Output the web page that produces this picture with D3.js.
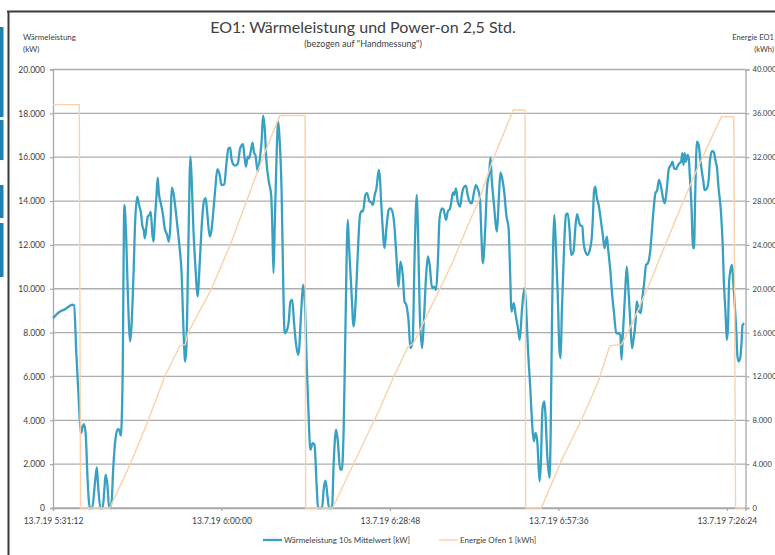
<!DOCTYPE html>
<html>
<head>
<meta charset="utf-8">
<script src="https://cdn.jsdelivr.net/npm/d3@7"></script>
<style>
  body { margin: 0; background: #fff; }
  svg text { font-family: Lato, "Open Sans", sans-serif; fill: #404040; }
</style>
</head>
<body>
<svg id="chart" width="775" height="555"></svg>
<script>
// Measurement run on 13.7.2019, minutes after 05:31:12
const startTime = new Date(2019, 6, 13, 5, 31, 12);
const endMinute = 118.4;
const xTickMinutes = [0, 28.8, 57.6, 86.4, 115.2];

const powerTicks = [0, 2000, 4000, 6000, 8000, 10000, 12000, 14000, 16000, 18000, 20000];
const energyTicks = [0, 4000, 8000, 12000, 16000, 20000, 24000, 28000, 32000, 36000, 40000];

// Wärmeleistung, 10 s Mittelwert: [minute, kW]
const heatOutput = [
  [0,8660],[1.2,8960],[2.1,9070],[3.3,9270],[3.6,9240],[4.0,6990],[4.3,5470],[4.8,3420],[5.0,3650],[5.3,3830],
  [5.6,3340],[5.9,1370],[6.3,0],[6.7,0],[7.2,1215],[7.5,1850],[7.7,1060],[8.1,0],[8.5,0],[8.8,910],
  [9.0,1520],[9.3,1060],[9.6,0],[10.0,230],[10.3,1820],[10.7,3190],[11.1,3600],[11.3,3570],[11.6,3310],[11.9,5920],
  [12.2,13820],[12.5,12460],[12.8,9720],[13.2,7600],[13.4,8200],[13.8,10940],[14.0,12760],[14.4,14200],[14.7,13820],[15.0,13520],
  [15.3,12840],[15.5,12680],[15.7,12300],[16.0,12910],[16.2,13290],[16.5,13370],[16.7,13520],[17.0,12460],[17.2,12150],[17.4,13060],
  [17.7,14280],[17.9,15070],[18.1,14360],[18.5,13820],[18.8,13370],[19.1,12760],[19.5,12460],[19.8,12150],[20.1,13060],[20.3,14610],
  [20.6,14360],[21.0,13520],[21.3,12760],[21.6,12000],[22.0,10630],[22.3,8200],[22.6,6680],[22.8,7290],[23.1,11240],[23.5,16030],
  [23.7,15040],[24.0,12760],[24.4,10790],[24.7,9650],[25.1,11240],[25.4,12760],[25.8,13980],[26.1,14130],[26.4,13370],[26.8,12380],
  [27.1,12680],[27.5,13820],[27.8,14730],[28.1,15460],[28.5,15190],[28.8,14730],[29.3,14760],[29.6,15570],[30.0,16400],[30.3,16440],
  [30.5,15950],[30.9,15650],[31.2,15620],[31.6,15720],[32.0,16400],[32.5,16590],[32.7,16100],[33.0,15570],[33.3,16030],[33.5,15950],
  [33.8,16250],[34.1,16660],[34.4,16180],[34.6,16100],[35.0,15340],[35.3,15800],[35.7,16860],[35.9,17890],[36.2,17320],[36.5,15800],
  [36.9,14890],[37.3,14280],[37.5,12760],[37.7,10710],[37.9,12760],[38.2,15800],[38.5,17620],[38.7,17010],[39.1,14280],[39.4,9720],
  [39.6,7970],[39.9,8050],[40.3,8500],[40.6,9420],[40.9,9490],[41.2,8500],[41.5,7600],[41.9,6990],[42.1,7290],[42.4,8810],
  [42.8,10180],[43.1,9110],[43.4,6380],[43.7,4250],[44.0,2660],[44.4,2960],[44.7,2890],[45.1,910],[45.3,0],[46.0,0],
  [46.3,910],[46.6,1250],[46.9,610],[47.2,0],[47.7,0],[48.0,2130],[48.4,3570],[48.7,3040],[49.1,1750],[49.4,1750],
  [49.7,3650],[50.0,8200],[50.4,13140],[50.6,12000],[51.0,10030],[51.4,8280],[51.8,9720],[52.1,11540],[52.5,13370],[52.8,13550],
  [53.0,13520],[53.4,14280],[53.7,14360],[54.1,13980],[54.4,13940],[54.7,13820],[55.0,14280],[55.3,14580],[55.7,15420],[55.9,15040],
  [56.1,13980],[56.3,13060],[56.7,11850],[57.0,12760],[57.4,13600],[57.7,13670],[58.1,13440],[58.4,12760],[58.7,11540],[59.1,10100],
  [59.4,11240],[59.8,10630],[60.1,9420],[60.4,9270],[60.8,8500],[61.1,7290],[61.5,7600],[61.8,11240],[62.2,14280],[62.4,12760],
  [62.7,8960],[63.1,7290],[63.4,8500],[63.8,10630],[64.1,11470],[64.4,11090],[64.8,10030],[65.1,10100],[65.5,9950],[65.8,11240],
  [66.1,13220],[66.5,13670],[66.8,13600],[67.2,13140],[67.5,13520],[67.9,13670],[68.2,14130],[68.4,14400],[68.6,14280],[68.9,14580],
  [69.2,13980],[69.6,13750],[69.9,14280],[70.2,14610],[70.6,14700],[70.9,14280],[71.3,13940],[71.6,13900],[72.0,14430],[72.3,14730],
  [72.6,14580],[73.0,14130],[73.2,12760],[73.5,11160],[73.9,12760],[74.2,14580],[74.6,15340],[74.8,15980],[75.0,15040],[75.4,13820],
  [75.7,12910],[75.9,12610],[76.2,13980],[76.5,15310],[76.9,14890],[77.2,14280],[77.5,13370],[77.9,12760],[78.1,11240],[78.4,8960],
  [78.8,9340],[79.1,8810],[79.5,8200],[79.8,7670],[80.2,9110],[80.6,10030],[80.9,9110],[81.2,7290],[81.6,5470],[81.9,3950],
  [82.2,3040],[82.5,3420],[82.8,3040],[83.2,1215],[83.4,1970],[83.7,4560],[84.0,4860],[84.2,4250],[84.5,2430],[84.9,1370],
  [85.1,3650],[85.3,8200],[85.7,13370],[85.9,12460],[86.3,9720],[86.6,7140],[86.8,6840],[87.0,8960],[87.4,12000],[87.7,13370],
  [88.0,13440],[88.3,12760],[88.6,11540],[89.0,11700],[89.3,12760],[89.6,13400],[89.8,13220],[90.1,12910],[90.5,12840],[90.7,12150],
  [91.0,11700],[91.4,11540],[91.7,11700],[92.1,12300],[92.3,13220],[92.5,14430],[92.7,14660],[93.0,14130],[93.3,13820],[93.7,13060],
  [94.0,12460],[94.3,11850],[94.7,12380],[94.9,11850],[95.3,10790],[95.6,9720],[95.9,8960],[96.3,7970],[96.6,7970],[97.0,7900],
  [97.2,6760],[97.4,7750],[97.8,9720],[98.1,11010],[98.3,10330],[98.7,8500],[99.0,7290],[99.2,7600],[99.6,8500],[99.8,9420],
  [100.2,8960],[100.5,8890],[100.7,9420],[101.1,10330],[101.4,11090],[101.7,11160],[102.1,11700],[102.3,12300],[102.7,13670],[103.0,14360],
  [103.3,14500],[103.6,14960],[103.9,14730],[104.3,14130],[104.6,13900],[104.9,14430],[105.3,15490],[105.6,15620],[105.9,15800],[106.2,15490],
  [106.5,15460],[106.9,15650],[107.1,15720],[107.4,15800],[107.6,16180],[107.8,15650],[108.0,16180],[108.2,15800],[108.5,16100],[108.7,15950],
  [108.9,15040],[109.2,13520],[109.4,11850],[109.6,11850],[109.8,14280],[110.1,16710],[110.4,16560],[110.6,16100],[110.9,15420],[111.2,14890],
  [111.4,14500],[111.8,14580],[112.1,14960],[112.3,15800],[112.7,16290],[113.0,16220],[113.3,15800],[113.5,15570],[113.8,14580],[114.2,13520],
  [114.5,12000],[114.7,10330],[115.0,8810],[115.2,7670],[115.4,8200],[115.6,10330],[115.9,10940],[116.1,11090],[116.3,10330],[116.6,9110],
  [116.8,8200],[117.0,6990],[117.2,6680],[117.5,6840],[117.7,7450],[117.9,8350],[118.2,8430]
];

// Energie Ofen 1, in units of the right-hand axis: [minute, value]
const ovenEnergy = [
  [0,36800],[4.5,36800],[4.7,0],[9.7,0],[13.2,4000],[16.3,8000],[19.1,12000],[21.7,14800],[22.6,14900],[23.1,16000],
  [27.1,20000],[30.3,24000],[33.1,28000],[35.9,32000],[38.8,35800],[43.1,35800],[43.2,0],[47.8,0],[51.9,4600],[55.9,9100],
  [58.2,11900],[60.7,14700],[61.6,15000],[65.6,19400],[68.4,22500],[70.7,25500],[73.0,28300],[75.3,31900],[78.7,36300],[80.7,36300],
  [80.8,0],[83.5,0],[86.9,4300],[90.4,8100],[93.2,11500],[95.2,14800],[97.2,14900],[98.9,16700],[101.7,20100],[104.6,23900],
  [107.4,27500],[109.7,30400],[112.0,33100],[114.3,35700],[116.4,35700],[116.7,0],[118.3,0]
];

const seriesNames = ["Wärmeleistung 10s Mittelwert [kW]", "Energie Ofen 1 [kWh]"];
const colors = { heat: "#38a1c2", energy: "#fbd1ab" };

const svg = d3.select("#chart");
const plot = { left: 53, right: 745.5, top: 69.5, bottom: 508 };

const atMinute = m => new Date(startTime.getTime() + m * 60000);

const x = d3.scaleTime()
  .domain([startTime, atMinute(endMinute)])
  .range([plot.left, plot.right]);
const yPower = d3.scaleLinear().domain([0, 20000]).range([plot.bottom, plot.top]);
const yEnergy = d3.scaleLinear().domain([0, 40000]).range([plot.bottom, plot.top]);

const de = d3.formatLocale({ decimal: ",", thousands: ".", grouping: [3], currency: ["", " €"] });
const num = de.format(",.0f");
const timeFmt = d3.timeFormat("%-d.%-m.%y %-H:%M:%S");

// strip of the surrounding page along the left edge
const pageStrip = [[27, 117], [120, 160], [185, 218], [223, 277]];
svg.append("g").selectAll("rect").data(pageStrip).join("rect")
  .attr("x", 0).attr("width", 3.5)
  .attr("y", d => d[0]).attr("height", d => d[1] - d[0])
  .attr("fill", "#1f80b4");

// outer frame of the chart object
svg.append("line").attr("x1", 7).attr("x2", 775).attr("y1", 11.5).attr("y2", 11.5)
  .attr("stroke", "#3a3a3a").attr("stroke-width", 2);
svg.append("line").attr("x1", 8.5).attr("x2", 8.5).attr("y1", 11).attr("y2", 555)
  .attr("stroke", "#3a3a3a").attr("stroke-width", 2);

// horizontal gridlines
svg.append("g").selectAll("line").data(powerTicks).join("line")
  .attr("x1", plot.left).attr("x2", plot.right)
  .attr("y1", d => yPower(d)).attr("y2", d => yPower(d))
  .attr("stroke", "#adadad").attr("stroke-width", 1.3);

// left axis
const leftAxis = svg.append("g").attr("transform", `translate(${plot.left},0)`)
  .call(d3.axisLeft(yPower).tickValues(powerTicks).tickFormat(num).tickSize(3).tickPadding(5));
// right axis
const rightAxis = svg.append("g").attr("transform", `translate(${plot.right},0)`)
  .call(d3.axisRight(yEnergy).tickValues(energyTicks).tickFormat(num).tickSize(4).tickPadding(3));
// bottom axis
const bottomAxis = svg.append("g").attr("transform", `translate(0,${plot.bottom})`)
  .call(d3.axisBottom(x).tickValues(xTickMinutes.map(atMinute)).tickFormat(timeFmt).tickSize(3).tickPadding(7));

[leftAxis, rightAxis, bottomAxis].forEach(g => {
  g.select(".domain").attr("stroke", "#a8a8a8").attr("stroke-width", 1.3);
  g.selectAll(".tick line").attr("stroke", "#a8a8a8").attr("stroke-width", 1.2);
  g.selectAll(".tick text").style("font-size", "8.5px").attr("fill", "#404040");
});
rightAxis.selectAll(".tick text").style("font-size", "7.6px");

// series
const heatLine = d3.line()
  .x(d => x(atMinute(d[0])))
  .y(d => yPower(d[1]))
  .curve(d3.curveMonotoneX);
const energyLine = d3.line()
  .x(d => x(atMinute(d[0])))
  .y(d => yEnergy(d[1]));

svg.append("path").datum(heatOutput)
  .attr("d", heatLine).attr("fill", "none")
  .attr("stroke", colors.heat).attr("stroke-width", 2.3).attr("stroke-linejoin", "round");
svg.append("path").datum(ovenEnergy)
  .attr("d", energyLine).attr("fill", "none")
  .attr("stroke", colors.energy).attr("stroke-width", 1.4);

// titles
svg.append("text").attr("x", 363).attr("y", 32.5).attr("text-anchor", "middle")
  .style("font-size", "16px").attr("fill", "#404040")
  .text("EO1: Wärmeleistung und Power-on 2,5 Std.");
svg.append("text").attr("x", 363).attr("y", 47).attr("text-anchor", "middle")
  .style("font-size", "9px").attr("fill", "#404040")
  .text("(bezogen auf \"Handmessung\")");

// axis titles
const leftTitle = svg.append("text").attr("x", 23).attr("y", 39.5).style("font-size", "8px");
leftTitle.append("tspan").attr("x", 23).text("Wärmeleistung");
leftTitle.append("tspan").attr("x", 23).attr("dy", 12).text("(kW)");
const rightTitle = svg.append("text").attr("x", 774).attr("y", 39.5).attr("text-anchor", "end").style("font-size", "7.6px");
rightTitle.append("tspan").attr("x", 774).text("Energie EO1");
rightTitle.append("tspan").attr("x", 774).attr("dy", 12).text("(kWh)");

// legend
const legend = svg.append("g").attr("transform", "translate(263,540)");
const legendItems = [
  { name: seriesNames[0], color: colors.heat, width: 2.3, x: 0 },
  { name: seriesNames[1], color: colors.energy, width: 1.4, x: 176 }
];
legendItems.forEach(item => {
  legend.append("line").attr("x1", item.x).attr("x2", item.x + 19).attr("y1", 0).attr("y2", 0)
    .attr("stroke", item.color).attr("stroke-width", item.width);
  legend.append("text").attr("x", item.x + 21).attr("y", 3).style("font-size", "8px").text(item.name);
});
</script>
</body>
</html>
